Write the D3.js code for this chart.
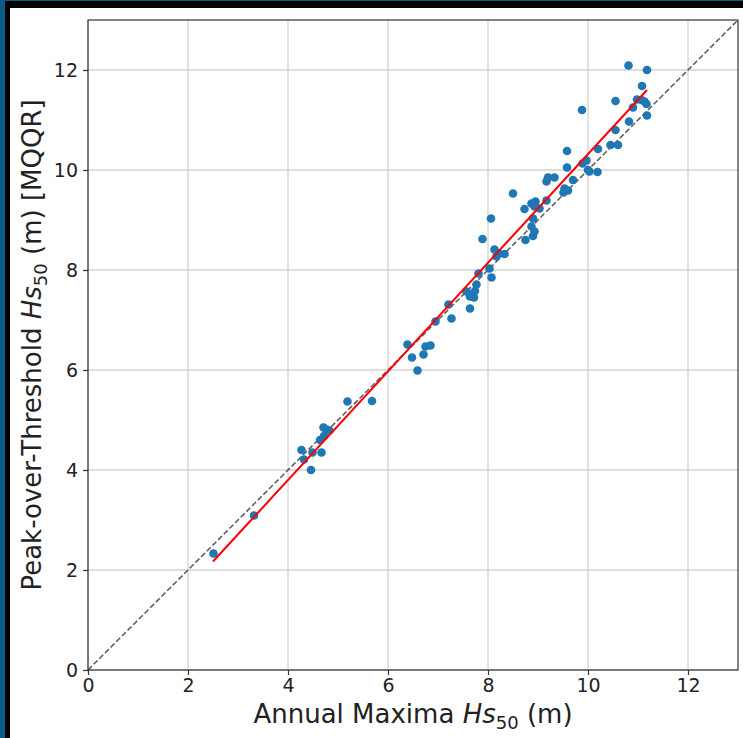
<!DOCTYPE html>
<html>
<head>
<meta charset="utf-8">
<script src="https://cdn.jsdelivr.net/npm/d3@7"></script>
<style>
  body { margin: 0; background: #fff; }
  text { font-family: "DejaVu Sans", sans-serif; fill: #222; }
</style>
</head>
<body>
<script>
// annual maxima Hs50 (x) vs peak-over-threshold Hs50 (y), metres
const amHs = [2.51, 3.32, 4.27, 4.32, 4.46, 4.49, 4.67, 4.64, 4.72, 4.71, 4.77, 4.83,
  5.19, 5.68, 6.39, 6.48, 6.59, 6.71, 6.75, 6.85, 6.95, 7.21, 7.27, 7.64, 7.57, 7.67,
  7.72, 7.64, 7.74, 7.77, 7.81, 8.03, 8.07, 8.17, 8.21, 8.33, 7.89, 8.06, 8.13, 8.50,
  8.73, 8.87, 8.95, 8.93, 9.03, 9.17, 8.90, 8.87, 8.93, 8.90, 8.75, 9.17, 9.20, 9.33,
  9.70, 9.53, 9.60, 9.51, 9.58, 9.58, 9.89, 9.97, 10.00, 10.03, 10.19, 10.20, 10.45,
  10.60, 10.55, 9.88, 10.55, 10.82, 10.90, 10.98, 11.07, 11.13, 11.17, 11.18, 11.08,
  10.81, 11.18]
const potHs = [2.33, 3.09, 4.40, 4.21, 4.00, 4.35, 4.35, 4.60, 4.68, 4.85, 4.81, 4.79,
  5.37, 5.38, 6.51, 6.25, 5.99, 6.31, 6.47, 6.49, 6.97, 7.31, 7.03, 7.23, 7.57, 7.51,
  7.45, 7.47, 7.58, 7.71, 7.93, 8.03, 7.85, 8.27, 8.33, 8.32, 8.62, 9.03, 8.41, 9.53,
  9.22, 9.33, 9.37, 9.27, 9.23, 9.39, 9.03, 8.87, 8.77, 8.68, 8.60, 9.77, 9.85, 9.85,
  9.80, 9.63, 9.59, 9.55, 10.38, 10.05, 10.13, 10.19, 10.00, 9.97, 9.96, 10.42, 10.50,
  10.50, 10.80, 11.20, 11.38, 10.97, 11.25, 11.41, 11.40, 11.37, 11.32, 11.09, 11.68,
  12.09, 12.00]

// fitted line ends
const fitX = [2.5, 11.18]
const fitY = [2.17, 11.6]

const ticks = [0, 2, 4, 6, 8, 10, 12]
const axisMax = 13

const width = 743
const height = 738
const margin = { left: 88, top: 20, right: 5, bottom: 68 }

const svg = d3.select("body").append("svg")
    .attr("width", width)
    .attr("height", height)

// dark frame around the screenshot
svg.append("rect").attr("x", 0).attr("y", 0).attr("width", width).attr("height", height)
    .style("fill", "#0b5a88")
svg.append("rect").attr("x", 5).attr("y", 1).attr("width", width - 5).attr("height", height - 1)
    .style("fill", "#000")
svg.append("rect").attr("x", 10).attr("y", 8).attr("width", width - 10).attr("height", height - 8)
    .style("fill", "#fff")

const x = d3.scaleLinear().domain([0, axisMax]).range([margin.left, width - margin.right])
const y = d3.scaleLinear().domain([0, axisMax]).range([height - margin.bottom, margin.top])

// grid
svg.append("g").selectAll("line").data(ticks).enter().append("line")
    .attr("x1", d => x(d)).attr("x2", d => x(d))
    .attr("y1", y(0)).attr("y2", y(axisMax))
    .style("stroke", "#d3d3d3").style("stroke-width", 1.3)
svg.append("g").selectAll("line").data(ticks).enter().append("line")
    .attr("y1", d => y(d)).attr("y2", d => y(d))
    .attr("x1", x(0)).attr("x2", x(axisMax))
    .style("stroke", "#d3d3d3").style("stroke-width", 1.3)

// 1:1 line
svg.append("line")
    .attr("x1", x(0)).attr("y1", y(0))
    .attr("x2", x(axisMax)).attr("y2", y(axisMax))
    .style("stroke", "#5a5a5a").style("stroke-width", 1.5)
    .style("stroke-dasharray", "5.5,2.5")

// points
svg.append("g").selectAll("circle").data(amHs).enter().append("circle")
    .attr("cx", d => x(d))
    .attr("cy", (d, i) => y(potHs[i]))
    .attr("r", 4.3)
    .style("fill", "#1f77b4")

// fit
svg.append("line")
    .attr("x1", x(fitX[0])).attr("y1", y(fitY[0]))
    .attr("x2", x(fitX[1])).attr("y2", y(fitY[1]))
    .style("stroke", "#ff0000").style("stroke-width", 2)

// axes
const xAxis = svg.append("g")
    .attr("transform", `translate(0,${y(0)})`)
    .call(d3.axisBottom(x).tickValues(ticks).tickSize(5).tickPadding(4).tickFormat(d3.format("d")))
const yAxis = svg.append("g")
    .attr("transform", `translate(${x(0)},0)`)
    .call(d3.axisLeft(y).tickValues(ticks).tickSize(5).tickPadding(5).tickFormat(d3.format("d")))
svg.append("rect")
    .attr("x", x(0)).attr("y", y(axisMax))
    .attr("width", x(axisMax) - x(0)).attr("height", y(0) - y(axisMax))
    .style("fill", "none").style("stroke", "#333").style("stroke-width", 1.2)

for (const g of [xAxis, yAxis]) {
    g.select(".domain").remove()
    g.selectAll(".tick line").style("stroke", "#333").style("stroke-width", 1.2)
    g.selectAll(".tick text").style("font-size", "19px").style("fill", "#222")
        .style("font-family", "DejaVu Sans")
}

// axis labels
const xl = svg.append("text")
    .attr("x", (x(0) + x(axisMax)) / 2)
    .attr("y", 723)
    .style("text-anchor", "middle")
    .style("font-size", "26px")
xl.append("tspan").text("Annual Maxima ")
xl.append("tspan").text("Hs").style("font-style", "italic")
xl.append("tspan").text("50").attr("dy", 6).style("font-size", "18px")
xl.append("tspan").text(" (m)").attr("dy", -6)

const yl = svg.append("text")
    .attr("transform", `translate(41,${(y(0) + y(axisMax)) / 2}) rotate(-90)`)
    .style("text-anchor", "middle")
    .style("font-size", "26px")
yl.append("tspan").text("Peak-over-Threshold ")
yl.append("tspan").text("Hs").style("font-style", "italic")
yl.append("tspan").text("50").attr("dy", 6).style("font-size", "18px")
yl.append("tspan").text(" (m) [MQQR]").attr("dy", -6)
</script>
</body>
</html>
